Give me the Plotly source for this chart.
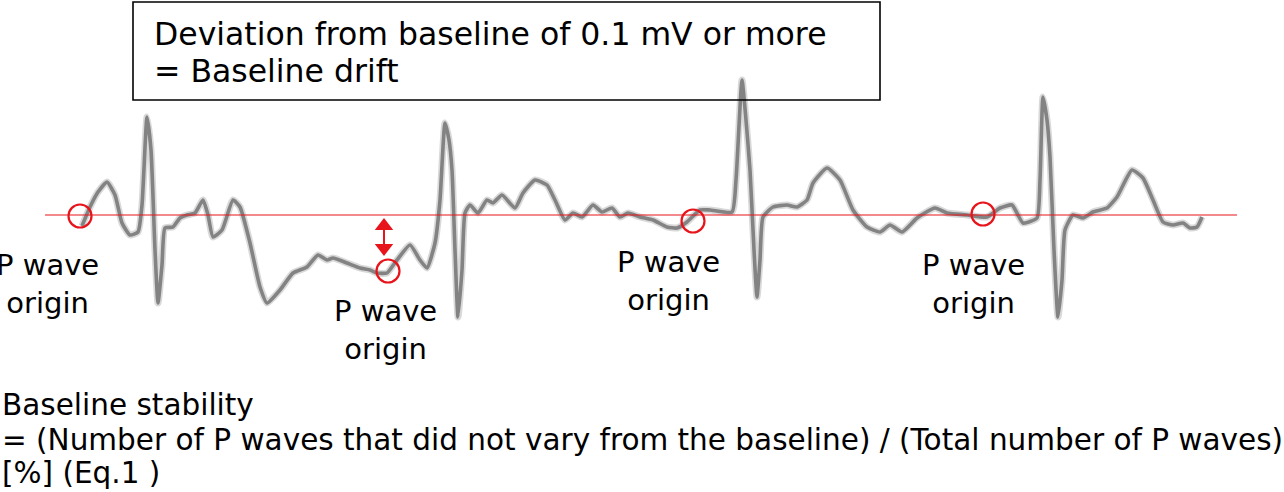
import plotly.graph_objects as go

# ECG trace: time (a.u., left->right) and amplitude relative to baseline (a.u., up positive)
ecg_t = [82, 90, 98, 107, 115, 122, 130, 138, 142, 147, 151, 155, 158, 162, 165, 173, 180, 187, 195, 203,
         208, 213, 222, 233, 240, 250, 260, 267, 280, 293, 307, 318, 327, 333, 347, 360, 370, 377, 387, 397,
         410, 420, 427, 435, 440, 445, 449, 452, 455, 458, 462, 465, 470, 478, 487, 493, 502, 515, 523, 535,
         547, 555, 565, 573, 582, 593, 602, 612, 620, 628, 640, 653, 667, 677, 687, 700, 710, 732, 736, 742,
         746, 750, 754, 757, 760, 763, 773, 787, 797, 807, 813, 827, 840, 853, 867, 880, 890, 902, 917, 935,
         947, 967, 987, 1000, 1012, 1023, 1037, 1040, 1043, 1047, 1050, 1054, 1058, 1062, 1065, 1073, 1083,
         1093, 1107, 1117, 1132, 1143, 1153, 1163, 1173, 1183, 1190, 1197, 1202]
ecg_py = [226, 207, 192, 182, 195, 223, 235, 232, 205, 117, 150, 250, 303, 265, 228, 227, 218, 215, 213, 200,
          215, 237, 230, 200, 207, 243, 287, 303, 290, 273, 267, 255, 260, 258, 263, 268, 270, 273, 273, 260,
          245, 260, 268, 243, 200, 123, 140, 170, 250, 317, 270, 213, 205, 213, 200, 203, 195, 208, 193, 180,
          185, 200, 220, 213, 217, 205, 212, 208, 217, 213, 217, 220, 227, 228, 222, 210, 210, 212, 180, 80,
          120, 170, 250, 297, 260, 217, 207, 205, 207, 200, 183, 168, 180, 210, 227, 232, 225, 232, 218, 208,
          213, 215, 217, 208, 205, 223, 218, 180, 97, 120, 157, 250, 317, 280, 230, 215, 218,
          212, 208, 197, 170, 178, 200, 222, 225, 223, 228, 227, 217]
BASE = 215
ecg_amp = [BASE - v for v in ecg_py]

# P wave origins
p_t = [80, 388, 693, 983]
p_amp = [BASE - 216, BASE - 271, BASE - 221, BASE - 214]

box_lines = ["Deviation from baseline of 0.1 mV or more", "= Baseline drift"]
bottom_lines = ["Baseline stability",
                "= (Number of P waves that did not vary from the baseline) / (Total number of P waves)",
                "[%] (Eq.1 )"]
p_label = "P wave<br>origin"

W, H = 1284, 492
Y = lambda py: BASE - py

fig = go.Figure()
fig.add_trace(go.Scatter(x=ecg_t, y=ecg_amp, mode="lines",
                         line=dict(color="rgba(170,170,170,0.45)", width=7, shape="spline", smoothing=0.5),
                         hoverinfo="skip", showlegend=False))
fig.add_trace(go.Scatter(x=ecg_t, y=ecg_amp, mode="lines",
                         line=dict(color="#838383", width=3.6, shape="spline", smoothing=0.5),
                         hoverinfo="skip", showlegend=False))
fig.add_trace(go.Scatter(x=p_t, y=p_amp, mode="markers",
                         marker=dict(symbol="circle-open", size=23, color="#e8141b", line=dict(width=2.2)),
                         showlegend=False))
# double arrow
fig.add_trace(go.Scatter(x=[384, 384], y=[Y(230), Y(244)], mode="lines",
                         line=dict(color="#e8141b", width=2), showlegend=False))
fig.add_trace(go.Scatter(x=[384], y=[Y(226)], mode="markers",
                         marker=dict(symbol="triangle-up", size=16, color="#e8141b"), showlegend=False))
fig.add_trace(go.Scatter(x=[384], y=[Y(248)], mode="markers",
                         marker=dict(symbol="triangle-down", size=16, color="#e8141b"), showlegend=False))

shapes = [
    dict(type="line", x0=45, x1=1237, y0=0, y1=0, line=dict(color="#e8141b", width=1.2)),
    dict(type="rect", x0=133, x1=880, y0=Y(2), y1=Y(100), line=dict(color="black", width=1.6)),
]

ann = []
f_box = dict(family="DejaVu Sans", size=31.5, color="black")
ann.append(dict(x=152, y=Y(34), text=box_lines[0], xanchor="left", yanchor="middle", showarrow=False, font=f_box))
ann.append(dict(x=152, y=Y(71), text=box_lines[1], xanchor="left", yanchor="middle", showarrow=False, font=f_box))

f_p = dict(family="DejaVu Sans", size=29, color="black")
for cx, cy in [(47, 284), (385, 330), (668, 281), (973, 284)]:
    ann.append(dict(x=cx, y=Y(cy), text=p_label, xanchor="center", yanchor="middle", showarrow=False,
                    font=f_p, align="center"))

f_b = dict(family="DejaVu Sans", size=29.5, color="black")
for line, py in zip(bottom_lines, [405, 440, 473]):
    ann.append(dict(x=0, xref="paper", y=Y(py), text=line, xanchor="left", yanchor="middle",
                    showarrow=False, font=f_b))

fig.update_layout(
    width=W, height=H, margin=dict(l=0, r=0, t=0, b=0),
    paper_bgcolor="white", plot_bgcolor="white",
    xaxis=dict(range=[0, W], visible=False, fixedrange=True),
    yaxis=dict(range=[BASE - H, BASE], visible=False, fixedrange=True),
    shapes=shapes, annotations=ann, showlegend=False,
)
fig.write_html("out.html", config={"displayModeBar": False},
               post_script="document.body.style.margin='0';document.body.style.overflow='hidden';")
